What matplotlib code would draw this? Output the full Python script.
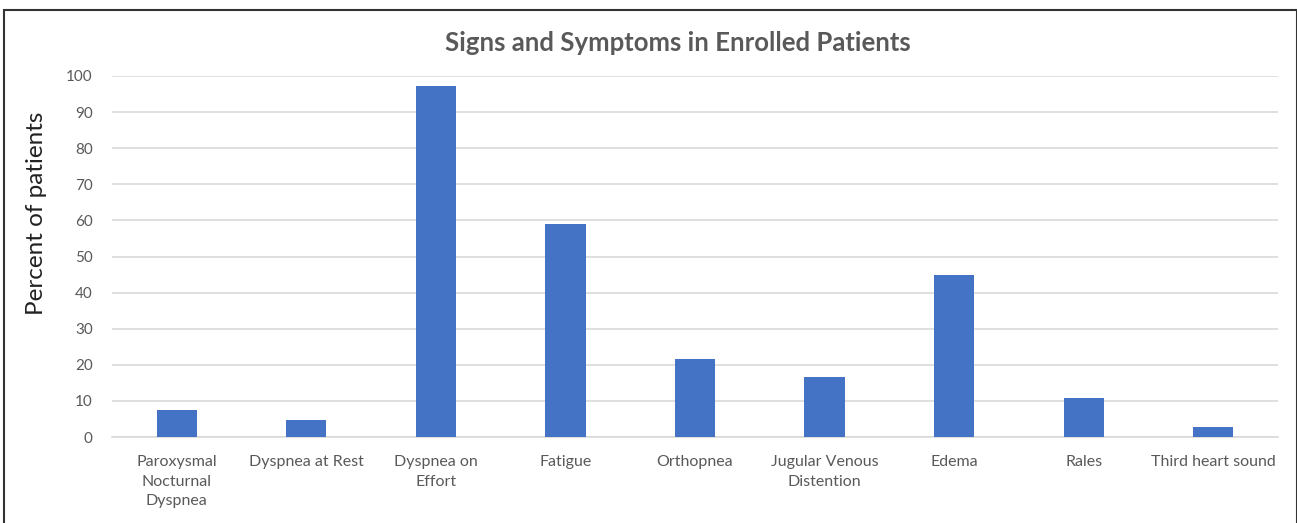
import matplotlib
matplotlib.use('Agg')
import matplotlib.pyplot as plt
from matplotlib.patches import Rectangle

# data
categories = ['Paroxysmal\nNocturnal\nDyspnea', 'Dyspnea at Rest', 'Dyspnea on\nEffort',
              'Fatigue', 'Orthopnea', 'Jugular Venous\nDistention', 'Edema', 'Rales',
              'Third heart sound']
percent = [7.6, 4.6, 97.2, 59.1, 21.7, 16.7, 44.9, 10.9, 2.9]
yticks = list(range(0, 101, 10))

plt.rcParams['font.family'] = ['Lato', 'DejaVu Sans']

fig = plt.figure(figsize=(12.97, 5.23), dpi=100)
ax = fig.add_axes([0.0864, 0.1644, 0.8989, 0.6903])

x = range(len(categories))
ax.bar(x, percent, width=0.31, color='#4472C4', zorder=3)

ax.set_xlim(-0.5, len(categories) - 0.5)
ax.set_ylim(0, 100)
ax.set_yticks(yticks)
ax.set_xticks(list(x))
ax.set_xticklabels(categories, fontsize=11.5, color='#595959', linespacing=1.5, va='top')
ax.tick_params(axis='y', length=0, labelsize=11, labelcolor='#595959', pad=14)
ax.tick_params(axis='x', length=0, pad=13)

ax.yaxis.grid(True, color='#d9d9d9', linewidth=1.2, zorder=0)
for s in ['top', 'right', 'left']:
    ax.spines[s].set_visible(False)
ax.spines['bottom'].set_color('#d9d9d9')
ax.spines['bottom'].set_linewidth(1.2)

# y label sits a bit above the axes centre in the reference
fig.text(0.0278, 0.593, 'Percent of patients', rotation=90, ha='center', va='center',
         fontsize=17.5, color='#222222')

fig.text(0.523, 0.918, 'Signs and Symptoms in Enrolled Patients', ha='center', va='center',
         fontsize=18.5, fontweight='bold', color='#595959')

# outer frame
fig.patches.append(Rectangle((0.003, -0.01), 0.997, 0.99, transform=fig.transFigure,
                             fill=False, edgecolor='#333333', linewidth=1.5))

fig.savefig('out.png', dpi=100)
